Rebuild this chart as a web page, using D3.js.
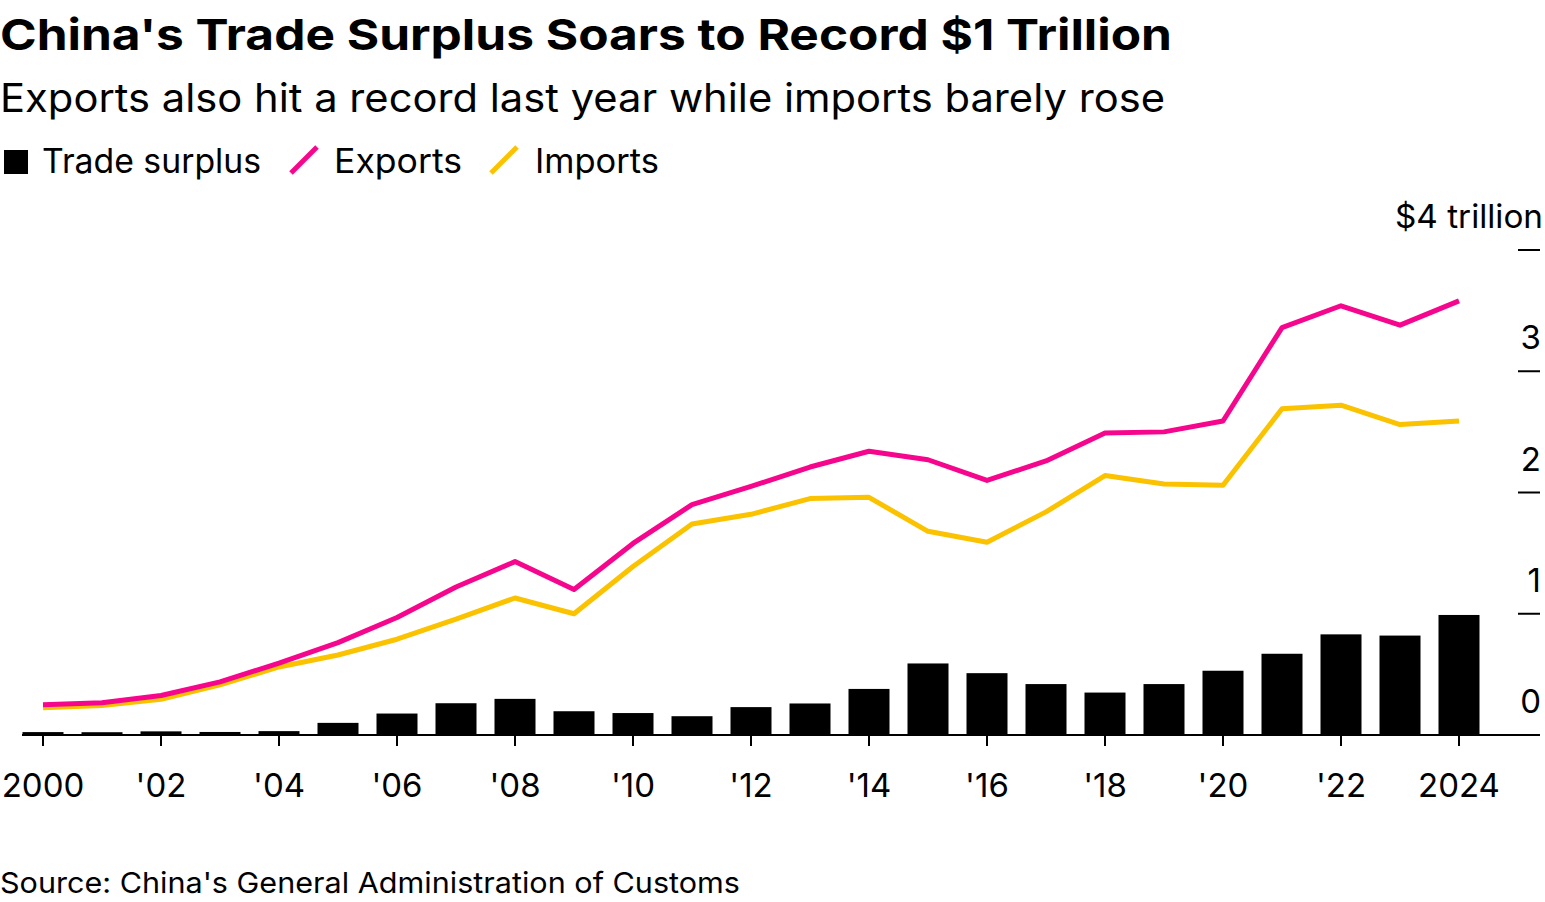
<!DOCTYPE html>
<html><head><meta charset="utf-8">
<script src="https://cdn.jsdelivr.net/npm/d3@7"></script>
<style>body{margin:0;background:#fff;font-family:Inter,"Liberation Sans",sans-serif}</style>
</head><body>
<script>
var years = d3.range(2000, 2025);
var exportsT = [0.249,0.266,0.326,0.438,0.593,0.762,0.969,1.22,1.43,1.20,1.58,1.90,2.05,2.21,2.34,2.27,2.10,2.26,2.49,2.50,2.59,3.36,3.54,3.38,3.58];
var importsT = [0.225,0.243,0.295,0.413,0.561,0.66,0.79,0.956,1.13,1.00,1.39,1.74,1.82,1.95,1.96,1.68,1.59,1.84,2.14,2.07,2.06,2.69,2.72,2.56,2.59];
var surplusT = [0.024,0.023,0.03,0.025,0.032,0.10,0.177,0.262,0.298,0.196,0.181,0.155,0.23,0.26,0.38,0.59,0.51,0.42,0.35,0.42,0.53,0.67,0.83,0.82,0.99];
var yTicks = [0,1,2,3,4];
var xTickLabels = {2000:'2000',2002:"'02",2004:"'04",2006:"'06",2008:"'08",2010:"'10",2012:"'12",2014:"'14",2016:"'16",2018:"'18",2020:"'20",2022:"'22",2024:'2024'};

var svg = d3.select('body').append('svg').attr('width',1545).attr('height',902);
var x = d3.scaleLinear().domain([2000,2024]).range([43,1459]);
var y = d3.scaleLinear().domain([0,4]).range([735,250]);

function txt(px,py,size,s,len){
	var t = svg.append('text').attr('x',px).attr('y',py).attr('font-size',size).text(s);
	if (len) t.attr('textLength',len).attr('lengthAdjust','spacingAndGlyphs');
	return t;
}

txt(0,50,43,"China's Trade Surplus Soars to Record $1 Trillion",1172).attr('font-weight',700);
txt(0,112,39,'Exports also hit a record last year while imports barely rose',1165);

// legend
svg.append('rect').attr('x',4).attr('y',150).attr('width',24).attr('height',24).attr('fill','#000');
txt(42,173,34,'Trade surplus',219);
svg.append('line').attr('x1',291).attr('y1',173).attr('x2',317).attr('y2',147).attr('stroke','#f5068c').attr('stroke-width',5);
txt(334,173,34,'Exports',128);
svg.append('line').attr('x1',491).attr('y1',173).attr('x2',517).attr('y2',147).attr('stroke','#fbc200').attr('stroke-width',5);
txt(535,173,34,'Imports',124);

// y axis on right
yTicks.forEach(function(t){
	svg.append('line').attr('x1',1518).attr('x2',1540).attr('y1',y(t)).attr('y2',y(t)).attr('stroke','#000').attr('stroke-width',2);
	var lab = txt(1541,y(t)-22,33,t==4 ? '$4 trillion' : t).attr('text-anchor','end');
	if (t==4) lab.attr('x',1543).attr('textLength',148).attr('lengthAdjust','spacingAndGlyphs');
});

// bars
svg.selectAll('.bar').data(years).enter().append('rect')
	.attr('x',function(d){return x(d)-20.5;})
	.attr('width',41)
	.attr('y',function(d,i){return y(surplusT[i]);})
	.attr('height',function(d,i){return y(0)-y(surplusT[i]);})
	.attr('fill','#000');

// baseline and x ticks
svg.append('line').attr('x1',22).attr('x2',1540).attr('y1',735).attr('y2',735).attr('stroke','#000').attr('stroke-width',2);
Object.keys(xTickLabels).forEach(function(k){
	svg.append('line').attr('x1',x(+k)).attr('x2',x(+k)).attr('y1',735).attr('y2',746).attr('stroke','#000').attr('stroke-width',2);
	svg.append('text').attr('x',x(+k)).attr('y',797).attr('text-anchor','middle').attr('font-size',33).text(xTickLabels[k]);
});

var line = d3.line().x(function(d,i){return x(years[i]);}).y(function(d){return y(d);});
svg.append('path').datum(importsT).attr('d',line).attr('fill','none').attr('stroke','#fbc200').attr('stroke-width',5).attr('stroke-linejoin','round');
svg.append('path').datum(exportsT).attr('d',line).attr('fill','none').attr('stroke','#f5068c').attr('stroke-width',5).attr('stroke-linejoin','round');

txt(0,893,29,"Source: China's General Administration of Customs",740);
</script>
</body></html>
